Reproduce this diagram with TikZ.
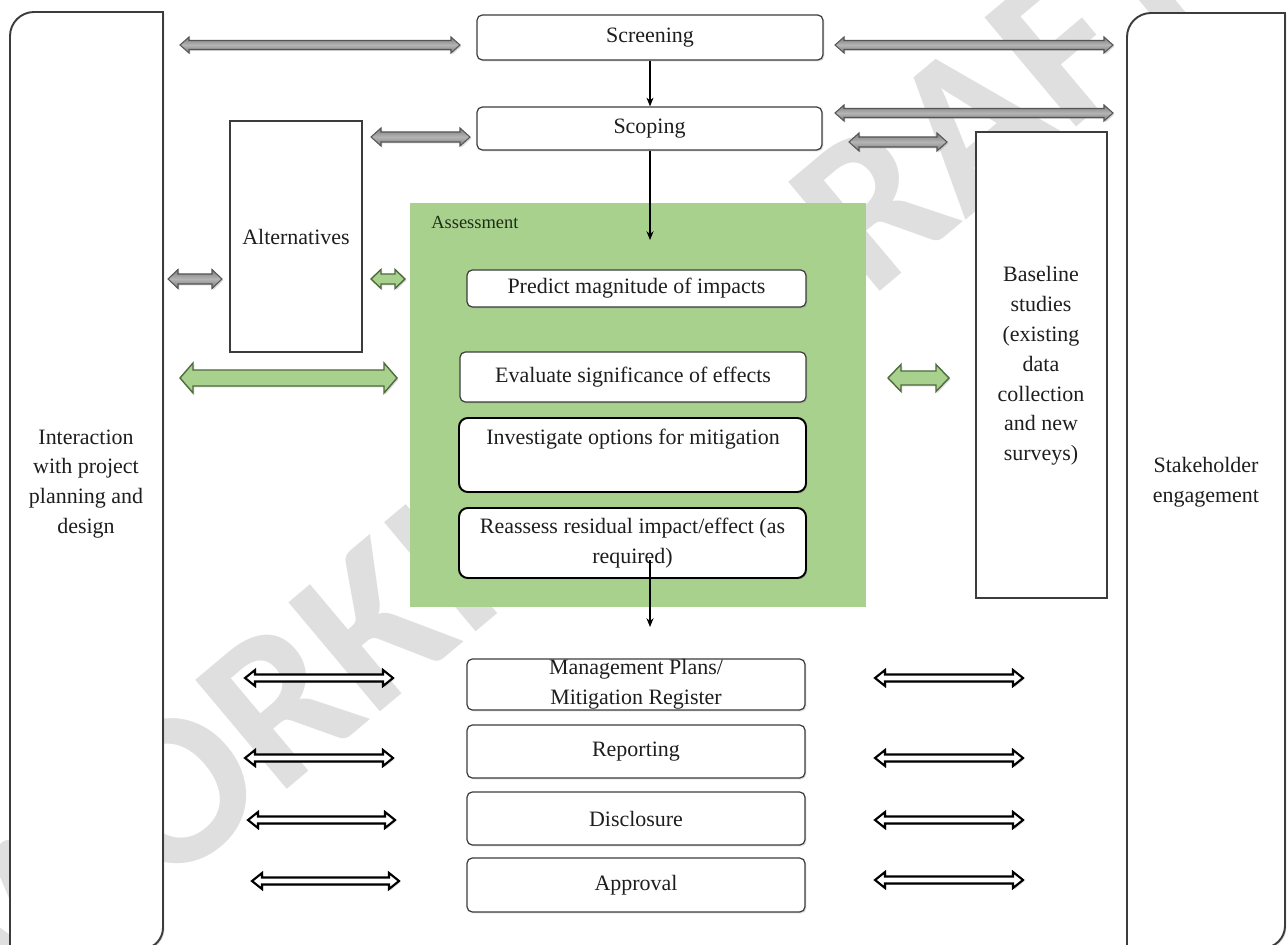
\documentclass[tikz,border=0pt]{standalone}
\usepackage{fontspec}
\setmainfont{Liberation Serif}
\newfontfamily\wmfont{Carlito}
\usetikzlibrary{shadows,arrows.meta}

\definecolor{assessgreen}{HTML}{A9D18E}
\definecolor{greenedge}{HTML}{4E6B3E}
\definecolor{graymid}{HTML}{B4B4B4}
\definecolor{grayside}{HTML}{7C7C7C}
\definecolor{grayedge}{HTML}{555555}
\definecolor{boxedge}{HTML}{3C3C3C}
\definecolor{ink}{HTML}{1E1E1E}
\definecolor{labelink}{HTML}{1E2E16}
\definecolor{watermark}{HTML}{DFDFDF}

\newcommand\mainsize{\fontsize{12.5}{17}\selectfont}

% box given by its pixel corners: name, style, x1, y1, x2, y2, text
\newcommand\pxnode[7]{%
  \node[#2, minimum width={(#5-#3)*0.02cm}, minimum height={(#6-#4)*0.02cm}]
    (#1) at ({(#3+#5)/2},{(#4+#6)/2}) {#7};}

% horizontal block arrow with a head at both ends:
% style, x-left, x-right, y, shaft half-width, head half-width, head length
\newcommand\blockarrow[7]{%
  \draw[#1] (#2,#4) -- (#2+#7,#4-#6) -- (#2+#7,#4-#5) -- (#3-#7,#4-#5)
    -- (#3-#7,#4-#6) -- (#3,#4) -- (#3-#7,#4+#6) -- (#3-#7,#4+#5)
    -- (#2+#7,#4+#5) -- (#2+#7,#4+#6) -- cycle;}

\begin{document}
\begin{tikzpicture}[x=0.02cm, y=-0.02cm,
  softshadow/.style={drop shadow={opacity=0.25, shadow xshift=0.8pt, shadow yshift=-0.8pt}},
  procbox/.style={draw=boxedge, line width=0.7pt, fill=white, rounded corners=3pt,
    inner sep=0pt, align=center, text=ink, font=\mainsize, softshadow},
  heavybox/.style={procbox, draw=black, line width=1.1pt, rounded corners=5pt},
  plainbox/.style={draw=boxedge, line width=0.9pt, fill=white, inner sep=0pt, softshadow},
  sidebox/.style={draw=boxedge, line width=1.1pt, fill=white, softshadow},
  boxtext/.style={align=center, text=ink, font=\mainsize, inner sep=0pt},
  grayarrow/.style={top color=grayside, bottom color=grayside, middle color=graymid,
    draw=grayedge, line width=0.6pt, drop shadow={opacity=0.3, shadow xshift=0.8pt, shadow yshift=-0.8pt}},
  greenarrow/.style={fill=assessgreen, draw=greenedge, line width=0.8pt,
    drop shadow={opacity=0.3, shadow xshift=0.8pt, shadow yshift=-0.8pt}},
  linearrow/.style={fill=white, draw=black, line width=1.2pt,
    drop shadow={opacity=0.3, shadow xshift=0.8pt, shadow yshift=-0.8pt}},
  flow/.style={draw=black, line width=0.6pt, -{Stealth[length=5pt, width=4pt]}}
]
\useasboundingbox (0,0) rectangle (1288,945);
\fill[white] (0,0) rectangle (1288,945);

% background watermark
\node[font=\wmfont\bfseries\fontsize{125}{125}\selectfont, text=watermark,
  rotate=40, inner sep=0pt] (wm) at (575,455) {WORKING DRAFT};

% side columns
\draw[sidebox] (10,950) -- (10,36) .. controls (10,22.8) and (20.8,12) .. (34,12)
  -- (163,12) -- (163,928) .. controls (163,938) and (155,948) .. (145,948) -- (10,950);
\node[boxtext] (interact) at (86,484) {Interaction\\with project\\planning and\\design};

\draw[sidebox] (1127,950) -- (1127,37) .. controls (1127,23.8) and (1137.8,13) .. (1151,13)
  -- (1285,13) -- (1285,926) .. controls (1285,938) and (1275,948) .. (1263,948) -- (1127,950);
\node[boxtext] (stake) at (1206,482) {Stakeholder\\engagement};

% top of the process
\pxnode{screen}{procbox}{477}{15}{823}{60}{Screening}
\pxnode{scope}{procbox}{477}{107}{822}{150}{Scoping}

% side studies
\pxnode{alt}{plainbox}{230}{121}{362}{352}{}
\node[boxtext] (alttext) at (296,237) {Alternatives};
\pxnode{base}{plainbox}{976}{132}{1107}{598}{}
\node[boxtext] (basetext) at (1041,366) {Baseline\\studies\\(existing\\data\\collection\\and new\\surveys)};

% assessment stage
\pxnode{assess}{fill=assessgreen, inner sep=0pt}{410}{203}{866}{607}{}
\node[anchor=west, inner sep=0pt, text=labelink, font=\fontsize{10.5}{12}\selectfont] (asslabel) at (431,223) {Assessment};
\pxnode{predict}{procbox}{467}{270}{806}{307}{Predict magnitude of impacts}
\pxnode{evaluate}{procbox}{460}{352}{806}{402}{Evaluate significance of effects}
\pxnode{investigate}{heavybox}{459}{418}{806}{492}{}
\node[boxtext] (invtext) at (633,439) {Investigate options for mitigation};
\pxnode{reassess}{heavybox}{459}{508}{806}{578}{Reassess residual impact/effect (as\\required)}

% outputs
\pxnode{mgmt}{procbox}{467}{659}{805}{710}{Management Plans/\\Mitigation Register}
\pxnode{report}{procbox}{467}{725}{805}{778}{Reporting}
\pxnode{disclose}{procbox}{467}{792}{805}{845}{Disclosure}
\pxnode{approve}{procbox}{467}{858}{805}{912}{Approval}

% flow between stages
\coordinate (assin) at (650,240);
\coordinate (reout) at (650,560);
\coordinate (outin) at (650,627);
\draw[flow] (screen.south) -- (scope.north -| screen.south);
\draw[flow] (scope.south -| screen.south) -- (assin);
\draw[flow] (reout) -- (outin);

% grey links
\blockarrow{grayarrow}{180}{460}{45}{4.5}{8}{9}
\blockarrow{grayarrow}{835}{1113}{45}{4.5}{8}{9}
\blockarrow{grayarrow}{835}{1113}{113}{4.5}{8}{9}
\blockarrow{grayarrow}{371}{470}{137}{5}{9}{10}
\blockarrow{grayarrow}{849}{947}{142}{5}{9}{10}
\blockarrow{grayarrow}{168}{222}{279}{5}{9.5}{10}

% green links
\blockarrow{greenarrow}{371}{405}{279}{5}{9.5}{10}
\blockarrow{greenarrow}{180}{397}{378}{8}{15}{13}
\blockarrow{greenarrow}{888}{949}{378}{7}{13.5}{13}

% outlined links beside the outputs
\blockarrow{linearrow}{245}{393}{678}{3.5}{8}{10}
\blockarrow{linearrow}{245}{393}{758}{3.5}{8}{10}
\blockarrow{linearrow}{248}{395}{820}{3.5}{8}{10}
\blockarrow{linearrow}{252}{399}{881}{3.5}{8}{10}
\blockarrow{linearrow}{875}{1023}{678}{3.5}{8}{10}
\blockarrow{linearrow}{875}{1023}{758}{3.5}{8}{10}
\blockarrow{linearrow}{875}{1023}{820}{3.5}{8}{10}
\blockarrow{linearrow}{875}{1023}{880}{3.5}{8}{10}
\end{tikzpicture}
\end{document}
